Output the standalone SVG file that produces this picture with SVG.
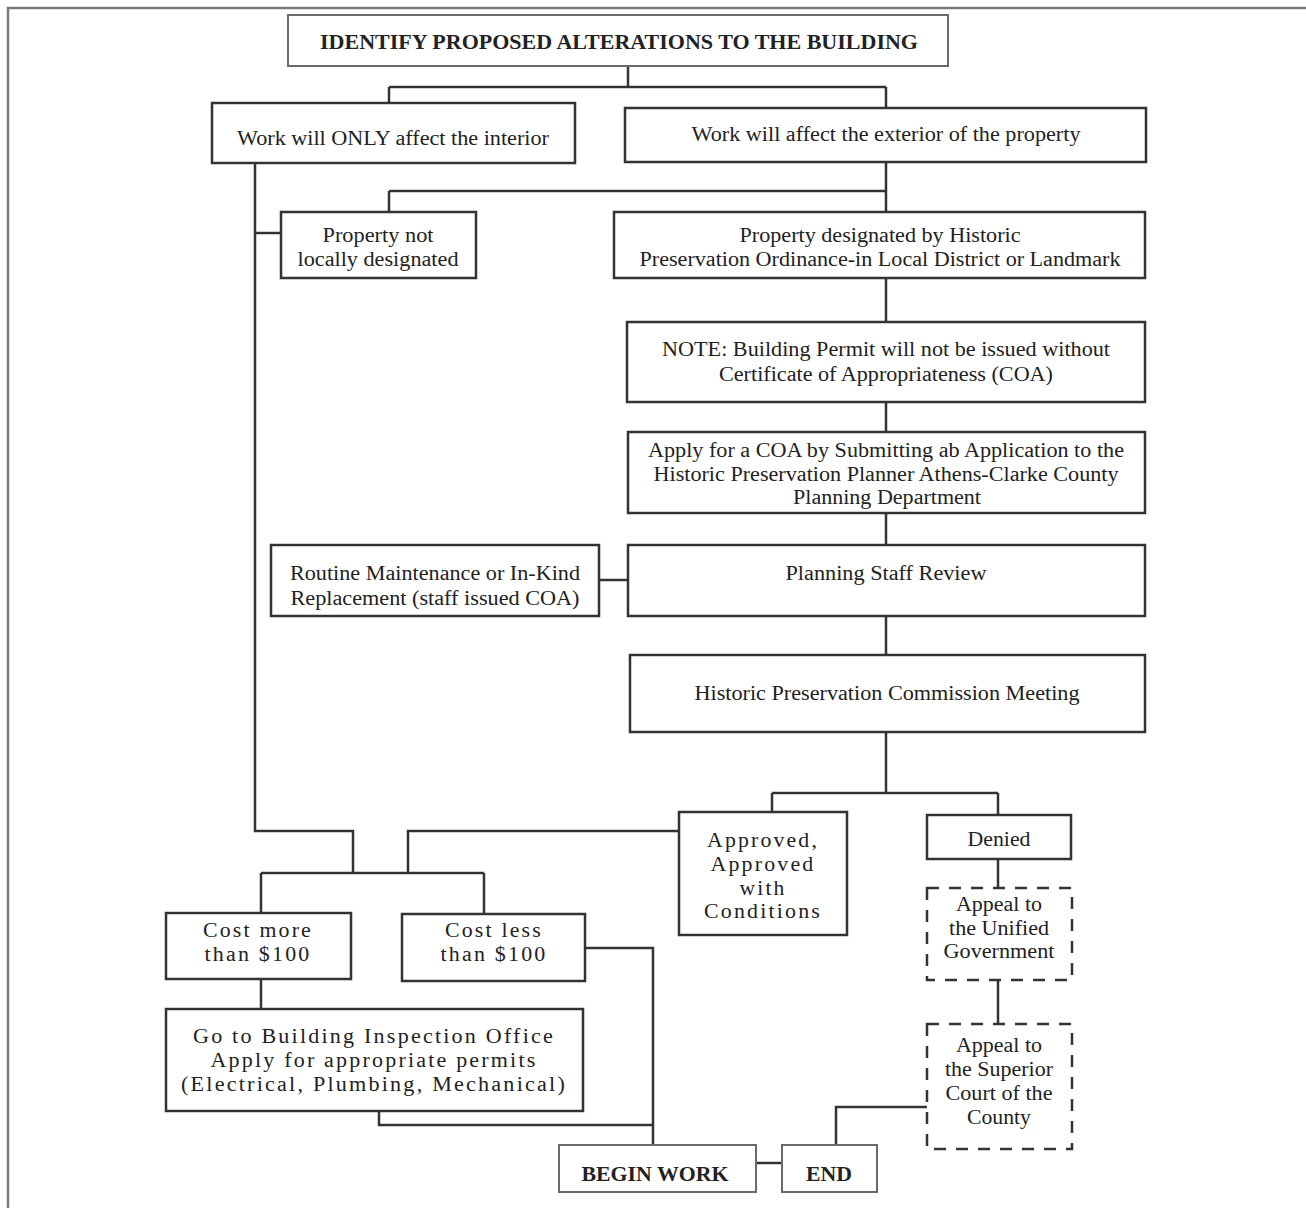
<svg xmlns="http://www.w3.org/2000/svg" width="1306" height="1208" viewBox="0 0 1306 1208">
<style>
.bg{fill:#fff}
.frame{stroke:#7a7a7a;stroke-width:2.5;fill:none}
.box{fill:#fff;stroke:#333;stroke-width:2.5}
.lbox{fill:#fff;stroke:#6a6a6a;stroke-width:2}
.dbox{fill:#fff;stroke:#333;stroke-width:2.5;stroke-dasharray:12 10}
.c{fill:none;stroke:#333;stroke-width:2.5}
text{font-family:"Liberation Serif","Times New Roman",serif;font-size:20px;fill:#222;text-anchor:middle}
.b{font-weight:bold}
.sp{letter-spacing:2px}
</style>
<rect class="bg" x="0" y="0" width="1306" height="1208"/>
<path class="frame" d="M8 1208 V8 H1306"/>
<g id="connectors">
<path class="c" d="M628 66 V87 M389 87 H886 M389 87 V103 M886 87 V108"/>
<path class="c" d="M886 162 V212 M389 191 H886 M389 191 V212"/>
<path class="c" d="M255 163 V831 H353 V873 M255 233 H281"/>
<path class="c" d="M886 278 V322 M886 402 V432 M886 513 V545 M599 580 H628 M886 616 V655"/>
<path class="c" d="M886 732 V793 M772 793 H998 M772 793 V812 M998 793 V815"/>
<path class="c" d="M679 831 H408 V873"/>
<path class="c" d="M261 873 H484 M261 873 V913 M484 873 V914"/>
<path class="c" d="M585 948 H653 V1145"/>
<path class="c" d="M261 979 V1009"/>
<path class="c" d="M379 1111 V1125 H653"/>
<path class="c" d="M998 859 V888 M998 980 V1024"/>
<path class="c" d="M927 1107 H836 V1145"/>
<path class="c" d="M756 1163 H782"/>
</g>
<g id="n-identify">
<rect class="lbox" x="288" y="15" width="660" height="51"/>
<text class="b" x="619" y="49" textLength="598" lengthAdjust="spacingAndGlyphs">IDENTIFY PROPOSED ALTERATIONS TO THE BUILDING</text>
</g>
<g id="n-interior">
<rect class="box" x="212" y="103" width="363" height="60"/>
<text x="393" y="145" textLength="312" lengthAdjust="spacingAndGlyphs">Work will ONLY affect the interior</text>
</g>
<g id="n-exterior">
<rect class="box" x="625" y="108" width="521" height="54"/>
<text x="886" y="141" textLength="389" lengthAdjust="spacingAndGlyphs">Work will affect the exterior of the property</text>
</g>
<g id="n-notdesignated">
<rect class="box" x="281" y="212" width="195" height="66"/>
<text x="378" y="242" textLength="111" lengthAdjust="spacingAndGlyphs">Property not</text>
<text x="378" y="266" textLength="161" lengthAdjust="spacingAndGlyphs">locally designated</text>
</g>
<g id="n-designated">
<rect class="box" x="614" y="212" width="531" height="66"/>
<text x="880" y="242" textLength="281" lengthAdjust="spacingAndGlyphs">Property designated by Historic</text>
<text x="880" y="266" textLength="481" lengthAdjust="spacingAndGlyphs">Preservation Ordinance-in Local District or Landmark</text>
</g>
<g id="n-note">
<rect class="box" x="627" y="322" width="518" height="80"/>
<text x="886" y="356" textLength="448" lengthAdjust="spacingAndGlyphs">NOTE: Building Permit will not be issued without</text>
<text x="886" y="381" textLength="334" lengthAdjust="spacingAndGlyphs">Certificate of Appropriateness (COA)</text>
</g>
<g id="n-apply">
<rect class="box" x="628" y="432" width="517" height="81"/>
<text x="886" y="457" textLength="476" lengthAdjust="spacingAndGlyphs">Apply for a COA by Submitting ab Application to the</text>
<text x="886" y="481" textLength="465" lengthAdjust="spacingAndGlyphs">Historic Preservation Planner Athens-Clarke County</text>
<text x="887" y="504" textLength="188" lengthAdjust="spacingAndGlyphs">Planning Department</text>
</g>
<g id="n-routine">
<rect class="box" x="271" y="545" width="328" height="71"/>
<text x="435" y="580" textLength="290" lengthAdjust="spacingAndGlyphs">Routine Maintenance or In-Kind</text>
<text x="435" y="605" textLength="289" lengthAdjust="spacingAndGlyphs">Replacement (staff issued COA)</text>
</g>
<g id="n-staffreview">
<rect class="box" x="628" y="545" width="517" height="71"/>
<text x="886" y="580" textLength="201" lengthAdjust="spacingAndGlyphs">Planning Staff Review</text>
</g>
<g id="n-hpc">
<rect class="box" x="630" y="655" width="515" height="77"/>
<text x="887" y="700" textLength="385" lengthAdjust="spacingAndGlyphs">Historic Preservation Commission Meeting</text>
</g>
<g id="n-approved">
<rect class="box" x="679" y="812" width="168" height="123"/>
<text class="sp" x="763" y="847" textLength="112" lengthAdjust="spacingAndGlyphs">Approved,</text>
<text class="sp" x="763" y="871" textLength="105" lengthAdjust="spacingAndGlyphs">Approved</text>
<text class="sp" x="763" y="895" textLength="47" lengthAdjust="spacingAndGlyphs">with</text>
<text class="sp" x="763" y="918" textLength="118" lengthAdjust="spacingAndGlyphs">Conditions</text>
</g>
<g id="n-denied">
<rect class="box" x="927" y="815" width="144" height="44"/>
<text x="999" y="846" textLength="63" lengthAdjust="spacingAndGlyphs">Denied</text>
</g>
<g id="n-appeal-unified">
<rect class="dbox" x="927" y="888" width="145" height="92"/>
<text x="999" y="911" textLength="86" lengthAdjust="spacingAndGlyphs">Appeal to</text>
<text x="999" y="935" textLength="100" lengthAdjust="spacingAndGlyphs">the Unified</text>
<text x="999" y="958" textLength="111" lengthAdjust="spacingAndGlyphs">Government</text>
</g>
<g id="n-appeal-superior">
<rect class="dbox" x="927" y="1024" width="145" height="125"/>
<text x="999" y="1052" textLength="86" lengthAdjust="spacingAndGlyphs">Appeal to</text>
<text x="999" y="1076" textLength="108" lengthAdjust="spacingAndGlyphs">the Superior</text>
<text x="999" y="1100" textLength="107" lengthAdjust="spacingAndGlyphs">Court of the</text>
<text x="999" y="1124" textLength="64" lengthAdjust="spacingAndGlyphs">County</text>
</g>
<g id="n-costmore">
<rect class="box" x="166" y="913" width="185" height="66"/>
<text class="sp" x="258" y="937" textLength="110" lengthAdjust="spacingAndGlyphs">Cost more</text>
<text class="sp" x="258" y="961" textLength="107" lengthAdjust="spacingAndGlyphs">than $100</text>
</g>
<g id="n-costless">
<rect class="box" x="402" y="914" width="183" height="67"/>
<text class="sp" x="494" y="937" textLength="98" lengthAdjust="spacingAndGlyphs">Cost less</text>
<text class="sp" x="494" y="961" textLength="107" lengthAdjust="spacingAndGlyphs">than $100</text>
</g>
<g id="n-inspection">
<rect class="box" x="166" y="1009" width="417" height="102"/>
<text class="sp" x="374" y="1043" textLength="362" lengthAdjust="spacingAndGlyphs">Go to Building Inspection Office</text>
<text class="sp" x="374" y="1067" textLength="327" lengthAdjust="spacingAndGlyphs">Apply for appropriate permits</text>
<text class="sp" x="374" y="1091" textLength="386" lengthAdjust="spacingAndGlyphs">(Electrical, Plumbing, Mechanical)</text>
</g>
<g id="n-begin">
<rect class="lbox" x="559" y="1145" width="197" height="47"/>
<text class="b" x="655" y="1181" textLength="147" lengthAdjust="spacingAndGlyphs">BEGIN WORK</text>
</g>
<g id="n-end">
<rect class="lbox" x="782" y="1145" width="95" height="47"/>
<text class="b" x="829" y="1181" textLength="46" lengthAdjust="spacingAndGlyphs">END</text>
</g>
</svg>
